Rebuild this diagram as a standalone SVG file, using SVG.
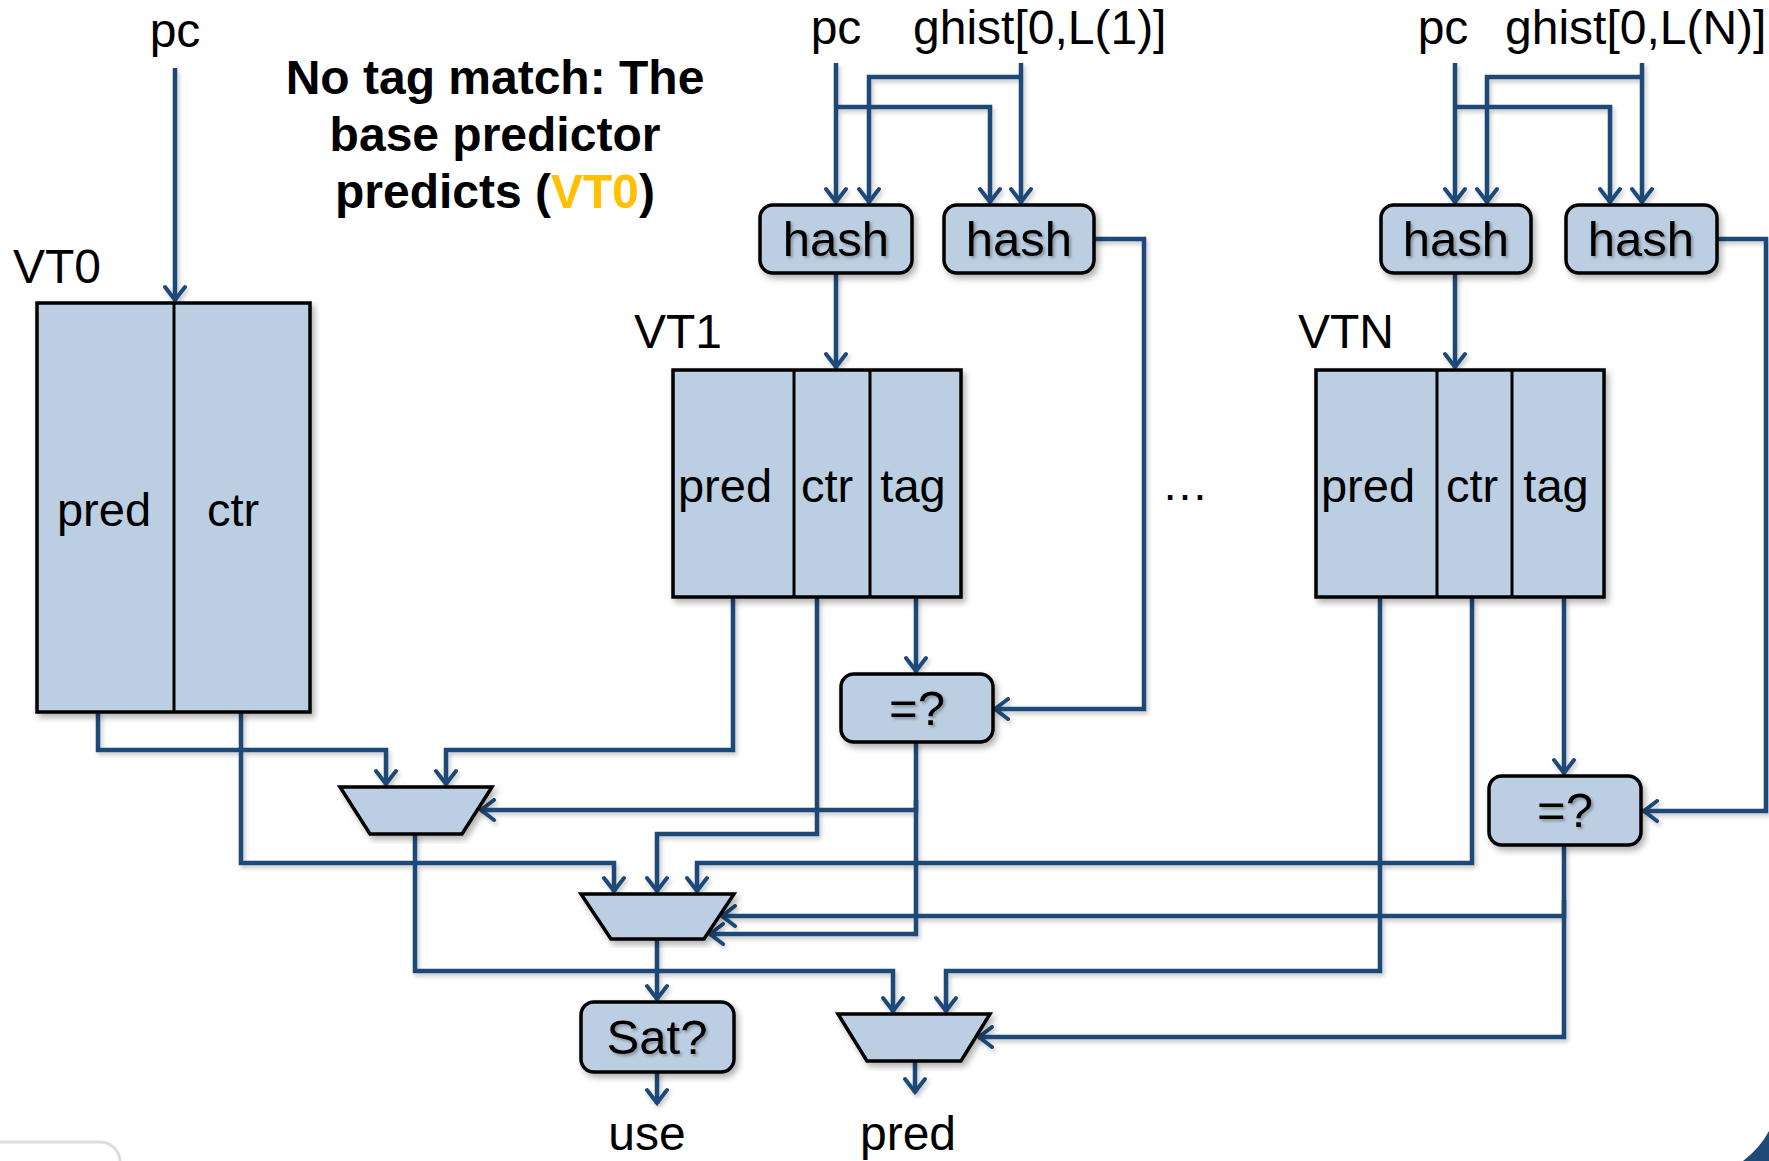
<svg xmlns="http://www.w3.org/2000/svg" width="1769" height="1161" viewBox="0 0 1769 1161">
  <defs>
    <filter id="shadow" x="-20%" y="-20%" width="140%" height="140%">
      <feDropShadow dx="3" dy="4" stdDeviation="3" flood-color="#000" flood-opacity="0.3"/>
    </filter>
    <filter id="wireShadow" x="-5%" y="-5%" width="110%" height="110%">
      <feDropShadow dx="2" dy="3" stdDeviation="2" flood-color="#000" flood-opacity="0.22"/>
    </filter>
    <filter id="textShadow" x="-10%" y="-10%" width="120%" height="130%">
      <feDropShadow dx="2" dy="2" stdDeviation="1.5" flood-color="#000" flood-opacity="0.3"/>
    </filter>
    <marker id="arrow" viewBox="-16 -12 20 24" markerWidth="20" markerHeight="24" refX="1" refY="0" orient="auto" markerUnits="userSpaceOnUse">
      <path d="M-13,-10 L0,0 L-13,10" fill="none" stroke="#1F4A78" stroke-width="4" stroke-linecap="round" stroke-linejoin="miter"/>
    </marker>
  </defs>
  <style>
    .txt { font-family: "Liberation Sans", Arial, sans-serif; font-size: 47px; fill: #000; }
    .top { font-size: 48px; }
    .boxtxt { font-size: 49px; }
    .mid { text-anchor: middle; }
    .bold { font-weight: bold; font-size: 48px; }
    .table { fill: #BCCEE1; stroke: #000; stroke-width: 3.5; }
    .cell { stroke: #000; stroke-width: 3; }
    .box { fill: #BCCEE1; stroke: #000; stroke-width: 3.5; }
    .wire { fill: none; stroke: #1F4A78; stroke-width: 4.5; stroke-linejoin: miter; }
    .arr { marker-end: url(#arrow); }
  </style>

  <rect x="0" y="0" width="1769" height="1161" fill="#fff"/>

  <!-- slide frame remnants at the bottom corners -->
  <g id="frame">
    <rect x="-30" y="1142" width="150" height="60" rx="20" fill="#fff" stroke="#dcdcdc" stroke-width="3"/>
    <path d="M1743,1161 Q1760,1148 1769,1131 L1769,1161 Z" fill="#1F4A78"/>
  </g>

  <!-- free labels -->
  <g id="labels">
    <text class="txt top mid" x="175" y="47">pc</text>
    <text class="txt mid bold" x="495" y="94">No tag match: The</text>
    <text class="txt mid bold" x="495" y="151">base predictor</text>
    <text class="txt mid bold" x="495" y="208">predicts (<tspan fill="#FFC000">VT0</tspan>)</text>
    <text class="txt top" x="13" y="283">VT0</text>
    <text class="txt top mid" x="836" y="44">pc</text>
    <text class="txt top" x="913" y="44">ghist[0,L(1)]</text>
    <text class="txt top mid" x="1443" y="44">pc</text>
    <text class="txt top" x="1505" y="44">ghist[0,L(N)]</text>
    <text class="txt top" x="634" y="348">VT1</text>
    <text class="txt top" x="1298" y="348">VTN</text>
    <text class="txt mid" x="1185" y="500">…</text>
    <text class="txt top mid" x="647" y="1150">use</text>
    <text class="txt top mid" x="908" y="1150">pred</text>
  </g>

  <!-- connectors -->
  <g id="connectors" filter="url(#wireShadow)">
    <!-- pc into the base table -->
    <path class="wire arr" d="M175,68 V301"/>
    <!-- VT1 hash inputs -->
    <path class="wire arr" d="M836,63 V203"/>
    <path class="wire arr" d="M1021,63 V203"/>
    <path class="wire arr" d="M1021,77 H869 V203"/>
    <path class="wire arr" d="M836,107 H990 V203"/>
    <!-- VTN hash inputs -->
    <path class="wire arr" d="M1455,63 V203"/>
    <path class="wire arr" d="M1642,63 V203"/>
    <path class="wire arr" d="M1642,77 H1487 V203"/>
    <path class="wire arr" d="M1455,107 H1610 V203"/>
    <!-- index hashes into tables -->
    <path class="wire arr" d="M836,273 V368"/>
    <path class="wire arr" d="M1455,273 V368"/>
    <!-- tag hashes into comparators -->
    <path class="wire arr" d="M1094,239 H1144 V709 H994"/>
    <path class="wire arr" d="M1718,239 H1766 V811 H1643"/>
    <!-- table tags into comparators -->
    <path class="wire arr" d="M916,597 V672"/>
    <path class="wire arr" d="M1564,597 V774"/>
    <!-- first prediction mux -->
    <path class="wire arr" d="M98,712 V750 H386 V785"/>
    <path class="wire arr" d="M733,597 V750 H446 V785"/>
    <path class="wire arr" d="M916,742 V810 H480"/>
    <!-- counter mux -->
    <path class="wire arr" d="M241,712 V863 H614 V892"/>
    <path class="wire arr" d="M817,597 V834 H657 V892"/>
    <path class="wire arr" d="M1472,597 V863 H697 V892"/>
    <path class="wire arr" d="M916,800 V934 H709"/>
    <path class="wire arr" d="M1564,845 V916 H721"/>
    <!-- final prediction mux -->
    <path class="wire arr" d="M415,834 V971 H893 V1012"/>
    <path class="wire arr" d="M1380,597 V971 H946 V1012"/>
    <path class="wire arr" d="M1564,900 V1037 H978"/>
    <!-- outputs -->
    <path class="wire arr" d="M657,939 V1000"/>
    <path class="wire arr" d="M657,1072 V1104"/>
    <path class="wire arr" d="M915,1061 V1093"/>
  </g>

  <!-- base predictor table -->
  <g id="vt0">
    <rect class="table" x="37" y="303" width="273" height="409" filter="url(#shadow)"/>
    <line class="cell" x1="174" y1="303" x2="174" y2="712"/>
    <text class="txt mid" x="104" y="526">pred</text>
    <text class="txt mid" x="233" y="526">ctr</text>
  </g>

  <!-- tagged table 1 -->
  <g id="vt1">
    <rect class="table" x="673" y="370" width="288" height="227" filter="url(#shadow)"/>
    <line class="cell" x1="794" y1="370" x2="794" y2="597"/>
    <line class="cell" x1="870" y1="370" x2="870" y2="597"/>
    <text class="txt mid" x="725" y="502">pred</text>
    <text class="txt mid" x="827" y="502">ctr</text>
    <text class="txt mid" x="913" y="502">tag</text>
  </g>

  <!-- tagged table N -->
  <g id="vtn">
    <rect class="table" x="1316" y="370" width="288" height="227" filter="url(#shadow)"/>
    <line class="cell" x1="1437" y1="370" x2="1437" y2="597"/>
    <line class="cell" x1="1512" y1="370" x2="1512" y2="597"/>
    <text class="txt mid" x="1368" y="502">pred</text>
    <text class="txt mid" x="1472" y="502">ctr</text>
    <text class="txt mid" x="1556" y="502">tag</text>
  </g>

  <!-- hash units -->
  <g id="hash-vt1-index">
    <rect class="box" x="760" y="205" width="152" height="68" rx="13" filter="url(#shadow)"/>
    <text class="txt boxtxt mid" x="836" y="256" filter="url(#textShadow)">hash</text>
  </g>
  <g id="hash-vt1-tag">
    <rect class="box" x="944" y="205" width="150" height="68" rx="13" filter="url(#shadow)"/>
    <text class="txt boxtxt mid" x="1019" y="256" filter="url(#textShadow)">hash</text>
  </g>
  <g id="hash-vtn-index">
    <rect class="box" x="1381" y="205" width="150" height="68" rx="13" filter="url(#shadow)"/>
    <text class="txt boxtxt mid" x="1456" y="256" filter="url(#textShadow)">hash</text>
  </g>
  <g id="hash-vtn-tag">
    <rect class="box" x="1566" y="205" width="151" height="68" rx="13" filter="url(#shadow)"/>
    <text class="txt boxtxt mid" x="1641" y="256" filter="url(#textShadow)">hash</text>
  </g>

  <!-- tag comparators -->
  <g id="cmp-vt1">
    <rect class="box" x="841" y="674" width="152" height="68" rx="13" filter="url(#shadow)"/>
    <text class="txt boxtxt mid" x="917" y="725" filter="url(#textShadow)">=?</text>
  </g>
  <g id="cmp-vtn">
    <rect class="box" x="1489" y="776" width="152" height="69" rx="13" filter="url(#shadow)"/>
    <text class="txt boxtxt mid" x="1565" y="827" filter="url(#textShadow)">=?</text>
  </g>

  <!-- multiplexers -->
  <g id="mux-pred1">
    <polygon class="box" points="340,787 492,787 462,834 370,834" filter="url(#shadow)"/>
  </g>
  <g id="mux-ctr">
    <polygon class="box" points="581,894 734,894 704,939 611,939" filter="url(#shadow)"/>
  </g>
  <g id="mux-pred">
    <polygon class="box" points="838,1014 990,1014 961,1061 867,1061" filter="url(#shadow)"/>
  </g>

  <!-- saturation check -->
  <g id="sat">
    <rect class="box" x="581" y="1002" width="153" height="70" rx="13" filter="url(#shadow)"/>
    <text class="txt boxtxt mid" x="657" y="1054" filter="url(#textShadow)">Sat?</text>
  </g>
</svg>
